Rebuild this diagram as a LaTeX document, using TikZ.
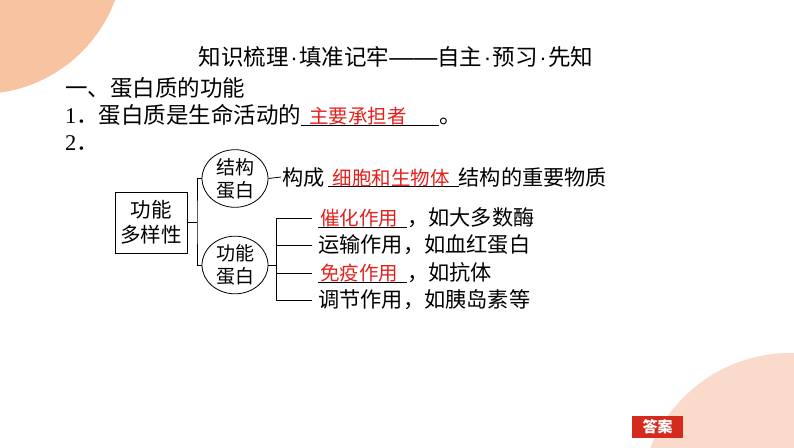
\documentclass[tikz,border=0pt]{standalone}
\usepackage{fontspec}
\setmainfont{Noto Sans CJK SC}
\newfontfamily\numfont{Liberation Serif}
\newfontfamily\dotfont{Liberation Sans}
\usetikzlibrary{shapes.geometric}
\usetikzlibrary{positioning}
\definecolor{peach}{HTML}{F7C3A0}
\definecolor{lightpeach}{HTML}{FADACA}
\definecolor{ansred}{HTML}{E3211C}
\definecolor{btnred}{HTML}{D52B1E}
% blank with red answer: width, left gap, text
\newcommand\fillin[3]{\rlap{\smash{\rule[-2pt]{#1}{0.8pt}}}\makebox[#1][l]{\hspace*{#2}\textcolor{ansred}{\fontsize{19.5}{20}\selectfont #3}}}
\newcommand\md{\hspace{1.5pt}{\dotfont ·}\hspace{1.5pt}}
\newcommand\dd{{\dotfont\fontsize{24}{24}\selectfont ——}}

\begin{document}
\begin{tikzpicture}[x=1pt,y=-1pt]
\tikzstyle{line} = [inner sep=0pt,anchor=west,font=\fontsize{22.5}{26}\selectfont]
\tikzstyle{row} = [inner xsep=6pt,inner ysep=0pt,anchor=west,font=\fontsize{21.2}{24}\selectfont]
\tikzstyle{egg} = [draw,ellipse,line width=0.8pt,inner sep=0pt,minimum width=66pt,minimum height=54pt,align=center,font=\fontsize{19}{23}\selectfont]
\tikzstyle{conn} = [line width=0.8pt]

\useasboundingbox (0,0) rectangle (794,447);
\begin{scope}
\clip (0,0) rectangle (794,447);
\fill[peach] (-20,-50) circle[radius=144pt];
\fill[lightpeach] (790,503) circle[radius=150pt];
\end{scope}

% heading lines
\node[font=\fontsize{22.5}{26}\selectfont] (title) at (396,57) {知识梳理\md 填准记牢\dd 自主\md 预习\md 先知};
\node[line] (sec) at (65,88) {一、蛋白质的功能};
\node[line] (q1) at (65,115) {{\numfont 1}．蛋白质是生命活动的\fillin{138pt}{8pt}{主要承担者}。};
\node[line] (q2) at (65,143) {{\numfont 2}．};

% tree
\node[draw,line width=0.8pt,minimum width=72pt,minimum height=61pt,inner sep=0pt,align=center,
  font=\fontsize{20.5}{25}\selectfont] (fn) at (151,222.5) {功能\\多样性};
\node[egg] (st) at (235,178.5) {结构\\蛋白};
\node[egg,minimum height=56pt] (fp) at (235,265) {功能\\蛋白};
\coordinate (j) at (197,222.5);
\draw[conn] (fn.east) -- (j);
\draw[conn] (st.west) -| (j) |- (fp.west);

\node[row,inner xsep=1pt] (cc) at (281,177) {构成\hspace{3pt}\fillin{131pt}{5pt}{细胞和生物体}结构的重要物质};
\draw[conn] (st.east) -- (cc.west);

\node[row] (r1) at (312,218) {\fillin{89pt}{2pt}{催化作用}，如大多数酶};
\node[row] (r2) at (312,245) {运输作用，如血红蛋白};
\node[row] (r3) at (312,273) {\fillin{89pt}{2pt}{免疫作用}，如抗体};
\node[row] (r4) at (312,300) {调节作用，如胰岛素等};
\coordinate (k) at (276,265);
\draw[conn] (fp.east) -- (k);
\draw[conn] (k |- r1.west) -- (k |- r4.west);
\foreach \r in {r1,r2,r3,r4} {
\draw[conn] (k |- \r.west) -- (\r.west);
}

\node[fill=btnred,text=white,minimum width=51pt,minimum height=22pt,inner sep=0pt,
  font=\fontsize{15}{17}\selectfont\bfseries] (ans) at (657.5,427) {答案};
\end{tikzpicture}
\end{document}
